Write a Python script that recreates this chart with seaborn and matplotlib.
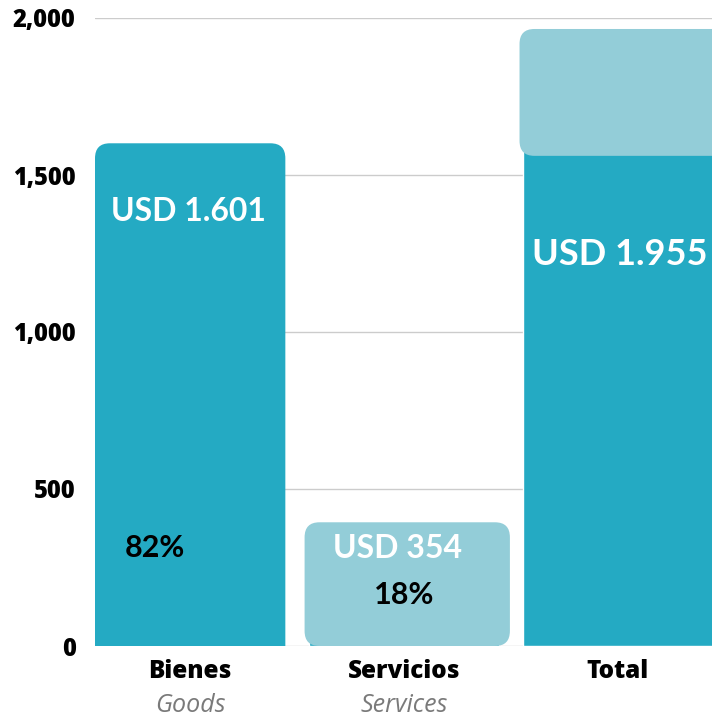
import matplotlib
matplotlib.use("Agg")
import matplotlib.pyplot as plt
from matplotlib.patches import FancyBboxPatch
from matplotlib.transforms import blended_transform_factory
import pandas as pd
import seaborn as sns

categorias = ['Bienes', 'Servicios', 'Total']
categorias_en = ['Goods', 'Services', '']
valores = [1601, 354, 1955]
etiquetas = ['USD 1.601', 'USD 354', 'USD 1.955']
porcentajes = ['82%', '18%', '']
y_ticks = [0, 500, 1000, 1500, 2000]

oscuro = '#24AAC3'
claro = '#93CDD8'

sns.set_theme(style='white')
plt.rcParams['font.family'] = ['Open Sans', 'DejaVu Sans']
lato = ['Lato', 'DejaVu Sans']

df = pd.DataFrame({'categoria': categorias, 'valor': valores})

fig = plt.figure(figsize=(7.12, 7.22), dpi=100)
ax = fig.add_axes([95 / 712, 76 / 722, 617 / 712, 628 / 722])

sns.barplot(data=df, x='categoria', y='valor', color=oscuro, width=0.89,
            saturation=1, ax=ax, zorder=2)

ax.set_xlim(-0.445, 2.44)
ax.set_ylim(0, 2000)

# rounding in pixels -> data units
asp = (1 / 0.314) / (1 / 216)
rad = 15 / 216

# Bienes: replace the plain bar by one with rounded top corners
barras = ax.patches
b = barras[0]
b.set_visible(False)
x0, w, h = b.get_x(), b.get_width(), b.get_height()
ax.add_patch(FancyBboxPatch((x0, -200), w, h + 200,
                            boxstyle=f'round,pad=0,rounding_size={rad}',
                            mutation_aspect=asp, fc=oscuro, ec='none',
                            zorder=3))

# Servicios: light rounded box on top of the bar
s = barras[1]
ax.add_patch(FancyBboxPatch((s.get_x() - 0.02, 0), s.get_width() + 0.07,
                            valores[1] + 40,
                            boxstyle=f'round,pad=0,rounding_size={rad}',
                            mutation_aspect=asp, fc=claro, ec='none',
                            zorder=3))

# Total: light rounded box for the services part
t = barras[2]
ax.add_patch(FancyBboxPatch((t.get_x() - 0.015, valores[0] - 40),
                            t.get_width() + 0.1, valores[2] - valores[0] + 50,
                            boxstyle=f'round,pad=0,rounding_size={rad}',
                            mutation_aspect=asp, fc=claro, ec='none',
                            zorder=3))

ax.yaxis.grid(True, color='#cccccc', lw=1, zorder=0)
ax.set_axisbelow(True)
sns.despine(ax=ax, left=True, bottom=True)

ax.set_yticks(y_ticks)
ax.set_yticklabels([f'{v:,}' for v in y_ticks], fontsize=17,
                   fontweight='heavy', color='black')
ax.tick_params(axis='y', length=0, pad=14)
ax.set_xticks(range(3))
ax.set_xticklabels(categorias, fontsize=17.5, fontweight='heavy',
                   color='black')
ax.tick_params(axis='x', length=0, pad=9)
ax.set_xlabel('')
ax.set_ylabel('')

trans = blended_transform_factory(ax.transData, ax.transAxes)
for i, en in enumerate(categorias_en):
    if en:
        ax.text(i, -0.094, en, transform=trans, ha='center', va='center',
                fontsize=18, style='italic', color='#7a7a7a')

# value labels
ax.text(-0.01, 1385, etiquetas[0], ha='center', va='center', fontsize=23,
        color='white', family=lato, fontweight='bold', zorder=5)
ax.text(-0.167, 312, porcentajes[0], ha='center', va='center', fontsize=22,
        color='black', family=lato, fontweight='bold', zorder=5)
ax.text(0.97, 309, etiquetas[1], ha='center', va='center', fontsize=23,
        color='white', family=lato, fontweight='bold', zorder=5)
ax.text(1.0, 162, porcentajes[1], ha='center', va='center', fontsize=22,
        color='black', family=lato, fontweight='bold', zorder=5)
ax.text(2.01, 1248, etiquetas[2], ha='center', va='center', fontsize=26,
        color='white', family=lato, fontweight='bold', zorder=5)

fig.savefig('out.png', dpi=100)
